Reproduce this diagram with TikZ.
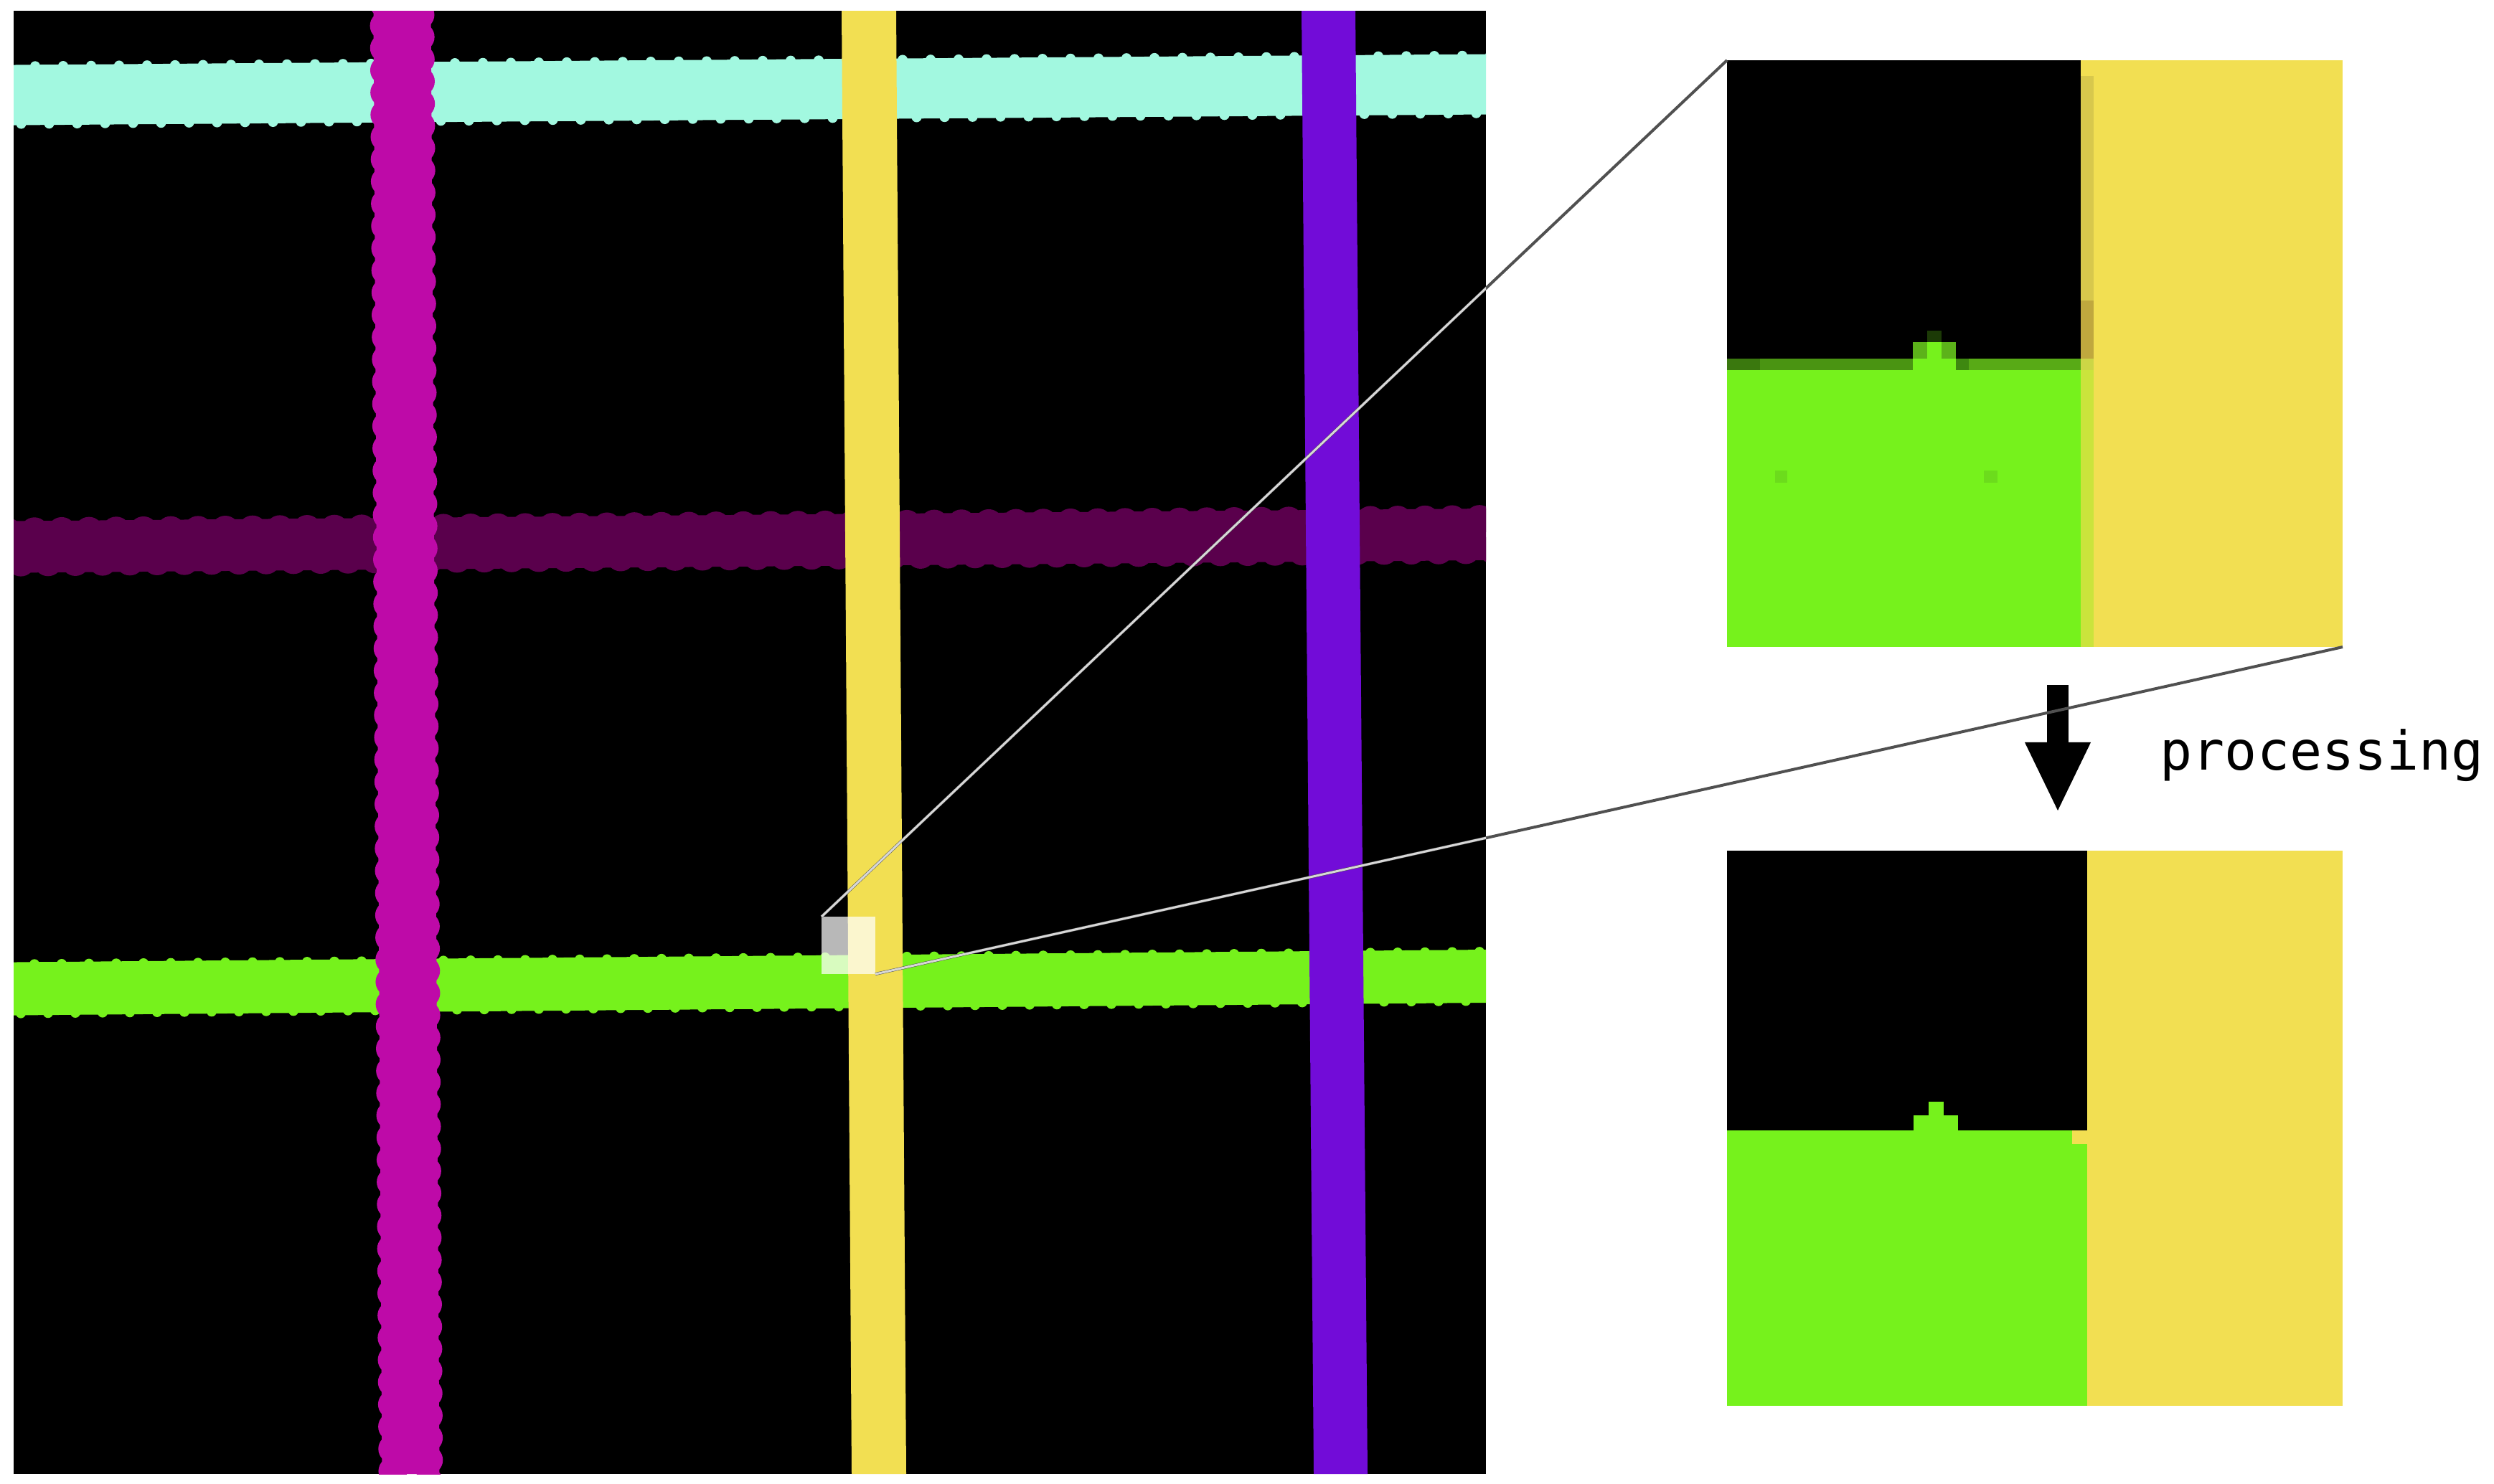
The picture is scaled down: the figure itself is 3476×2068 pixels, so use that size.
\documentclass[tikz,border=0pt]{standalone}
\usepackage{fontspec}
\newfontfamily\lblfont{DejaVu Sans Mono}
\usetikzlibrary{arrows.meta}
\definecolor{cyanS}{RGB}{162,248,224}
\definecolor{plumS}{RGB}{90,0,76}
\definecolor{greenS}{RGB}{118,242,28}
\definecolor{magS}{RGB}{190,10,168}
\definecolor{yelS}{RGB}{242,223,82}
\definecolor{purS}{RGB}{114,12,216}
\definecolor{stripA}{RGB}{216,200,76}
\definecolor{stripB}{RGB}{192,168,62}
\definecolor{stripC}{RGB}{204,214,70}
\definecolor{stripD}{RGB}{202,228,60}
\definecolor{dgA}{RGB}{58,120,14}
\definecolor{dgB}{RGB}{74,148,18}
\definecolor{dgC}{RGB}{62,136,16}
\definecolor{dgD}{RGB}{88,170,22}
\definecolor{dgE}{RGB}{92,178,26}
\definecolor{dgF}{RGB}{28,58,6}
\definecolor{dotG}{RGB}{108,220,28}
\definecolor{zoomOut}{RGB}{80,80,80}
\definecolor{zoomIn}{RGB}{215,215,215}

% horizontal stripe: color, yLeft, yRight, halfwidth, bump radius, bump inset, period
\newcommand{\myhstripe}[7]{%
  \fill[#1] (19,{#2-#4}) -- (2071,{#3-#4}) -- (2071,{#3+#4}) -- (19,{#2+#4}) -- cycle;
  \foreach \k in {0,...,60} {%
    \pgfmathsetmacro\xx{10+\k*#7}%
    \pgfmathsetmacro\yc{#2+((#3-#2)/2052)*(\xx-19)}%
    \fill[#1] (\xx,{\yc-#4+#6}) circle[radius=#5];
    \fill[#1] ({\xx+#7/2},{\yc+#4-#6}) circle[radius=#5];
  }}
% vertical stripe: color, xTop, xBottom, halfwidth, bump radius, bump inset, period
\newcommand{\myvstripe}[7]{%
  \fill[#1] ({#2-#4},15) -- ({#3-#4},2055) -- ({#3+#4},2055) -- ({#2+#4},15) -- cycle;
  \foreach \k in {0,...,75} {%
    \pgfmathsetmacro\yy{5+\k*#7}%
    \pgfmathsetmacro\xc{#2+((#3-#2)/2040)*(\yy-15)}%
    \fill[#1] ({\xc-#4+#6},\yy) circle[radius=#5];
    \fill[#1] ({\xc+#4-#6},{\yy+#7/2}) circle[radius=#5];
  }}

\tikzset{
  zoomline/.style={draw=zoomOut, line width=0.04cm},
  zoomlinein/.style={draw=zoomIn, line width=0.03cm},
  bigarrow/.style={line width=0.3cm, -{Triangle[length=0.95cm,width=0.92cm,line width=0pt]}},
  lbl/.style={font=\lblfont\fontsize{21.3pt}{25pt}\selectfont, inner sep=0pt, anchor=base west}
}

\begin{document}
\begin{tikzpicture}[x=0.01cm,y=-0.01cm]
\useasboundingbox (0,0) rectangle (3476,2068);
\fill[white] (0,0) rectangle (3476,2068);

\coordinate (P1) at (19,15);
\coordinate (P2) at (2071,2055);

% main panel
\begin{scope}
  \clip (P1) rectangle (P2);
  \fill[black] (P1) rectangle (P2);
  \myhstripe{cyanS}{132.5}{117.5}{42}{7}{2}{39}
  \myhstripe{plumS}{762.5}{745}{36}{20}{15}{38}
  \myhstripe{greenS}{1378.5}{1361}{37}{7}{3}{38}
  \myvstripe{magS}{560.5}{572.5}{40}{20}{15}{31}
  \fill[yelS] (1173,15) -- (1187,2055) -- (1263,2055) -- (1249,15) -- cycle;
  \fill[purS] (1814,15) -- (1831,2055) -- (1906,2055) -- (1889,15) -- cycle;
\end{scope}

% highlighted square
\coordinate (sqTL) at (1145,1278);
\coordinate (sqBR) at (1220,1358);
\fill[white, opacity=0.72] (sqTL) rectangle (sqBR);

% inset 1 (before processing)
\coordinate (inATL) at (2407,84);
\coordinate (inABR) at (3265,902);
\fill[black] (2407,84) rectangle (2900,500);
\fill[greenS] (2407,500) rectangle (2900,902);
\fill[yelS] (2900,84) rectangle (3265,902);
\fill[stripA] (2900,106) rectangle (2918,419);
\fill[stripB] (2900,419) rectangle (2918,500);
\fill[stripC] (2900,500) rectangle (2918,516);
\fill[stripD] (2900,516) rectangle (2918,902);
\fill[dgA] (2407,500) rectangle (2453,516);
\fill[dgB] (2453,500) rectangle (2666,516);
\fill[dgC] (2726,500) rectangle (2744,516);
\fill[dgD] (2744,500) rectangle (2900,516);
\fill[dgE] (2666,477) rectangle (2686,500);
\fill[greenS] (2686,477) rectangle (2706,500);
\fill[dgE] (2706,477) rectangle (2726,500);
\fill[dgF] (2686,461) rectangle (2706,477);
\fill[dotG] (2474,656) rectangle (2491,673);
\fill[dotG] (2765,656) rectangle (2784,673);

% inset 2 (after processing)
\coordinate (inBTL) at (2407,1186);
\coordinate (inBBR) at (3265,1960);
\fill[black] (2407,1186) rectangle (2909,1576);
\fill[greenS] (2407,1576) rectangle (2909,1960);
\fill[yelS] (2909,1186) rectangle (3265,1960);
\fill[greenS] (2667,1555) rectangle (2729,1576);
\fill[greenS] (2688,1536) rectangle (2709,1555);
\fill[yelS] (2888,1576) rectangle (2909,1595);

% processing arrow and label
\coordinate (arS) at (2868,955);
\coordinate (arE) at (2868,1130);
\draw[bigarrow] (arS) -- (arE);
\node[lbl] (proc) at (3010,1073) {processing};

% zoom lines
\draw[zoomline] (sqTL) -- (inATL);
\draw[zoomline] (sqBR) -- (inABR);
\begin{scope}
  \clip (P1) rectangle (P2);
  \draw[zoomlinein] (sqTL) -- (inATL);
  \draw[zoomlinein] (sqBR) -- (inABR);
\end{scope}
\end{tikzpicture}
\end{document}
